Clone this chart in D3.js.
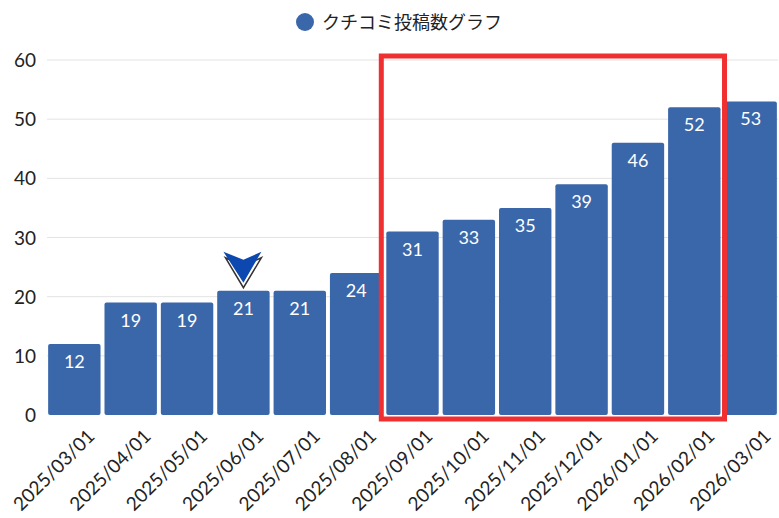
<!DOCTYPE html>
<html><head><meta charset="utf-8">
<script src="https://cdn.jsdelivr.net/npm/d3@7"></script>
<style>
body{margin:0;background:#fff;font-family:Lato,"Noto Sans CJK JP",sans-serif;}
</style></head><body>
<svg id="chart" width="779" height="518"></svg>
<script>
var categories = ["2025/03/01","2025/04/01","2025/05/01","2025/06/01","2025/07/01","2025/08/01","2025/09/01","2025/10/01","2025/11/01","2025/12/01","2026/01/01","2026/02/01","2026/03/01"];
var values = [12,19,19,21,21,24,31,33,35,39,46,52,53];
var yTicks = [0,10,20,30,40,50,60];
var seriesName = "クチコミ投稿数グラフ";
var markerIndex = 3;
var highlightFrom = 6, highlightTo = 11;

var svg = d3.select("#chart");
var x = d3.scaleBand().domain(categories).range([47, 778]).paddingInner(0.07).paddingOuter(0.02);
var y = d3.scaleLinear().domain([0, 60]).range([415, 60]);
var color = "#3a67aa";

svg.append("g").selectAll("line").data(yTicks.slice(1)).enter().append("line")
    .attr("x1", 47).attr("x2", 778)
    .attr("y1", d => y(d)).attr("y2", d => y(d))
    .attr("stroke", "#e3e3e3").attr("stroke-width", 1);

svg.append("g").selectAll("text").data(yTicks).enter().append("text")
    .attr("x", 36).attr("y", d => y(d) + 7)
    .attr("text-anchor", "end").attr("font-size", 19).attr("fill", "#222")
    .text(d => d);

svg.append("g").selectAll("rect").data(values).enter().append("rect")
    .attr("x", (d, i) => x(categories[i]))
    .attr("y", d => y(d))
    .attr("width", x.bandwidth())
    .attr("height", d => y(0) - y(d))
    .attr("rx", 2)
    .attr("fill", color);

svg.append("g").selectAll("text").data(values).enter().append("text")
    .attr("x", (d, i) => x(categories[i]) + x.bandwidth() / 2)
    .attr("y", d => y(d) + 24)
    .attr("text-anchor", "middle").attr("font-size", 18).attr("fill", "#fff")
    .text(d => d);

svg.append("g").selectAll("text").data(categories).enter().append("text")
    .attr("transform", d => "translate(" + (x(d) + x.bandwidth() / 2 + 12) + ",428) rotate(-45)")
    .attr("text-anchor", "end").attr("font-size", 19).attr("fill", "#222")
    .attr("dy", "0.7em")
    .text(d => d);

// highlight box
var bx0 = x(categories[highlightFrom]) - 5;
var bx1 = x(categories[highlightTo]) + x.bandwidth() + 4;
svg.append("rect")
    .attr("x", bx0).attr("y", y(60) - 4)
    .attr("width", bx1 - bx0).attr("height", y(0) - y(60) + 8)
    .attr("fill", "none").attr("stroke", "#f03030").attr("stroke-width", 5);

// marker arrow
var mx = x(categories[markerIndex]) + x.bandwidth() / 2;
var my = y(values[markerIndex]) - 20;
var g = svg.append("g").attr("transform", "translate(" + mx + "," + my + ")");
g.append("path").attr("d", "M-18,-13 L0,-5 L18,-13 L0,17 Z")
    .attr("fill", "#fff").attr("stroke", "#333").attr("stroke-width", 1.5);
g.append("path").attr("d", "M-20,-19 L0,-11 L18,-19 L0,12 Z").attr("fill", "#0d47b0");

// legend
svg.append("circle").attr("cx", 305).attr("cy", 22).attr("r", 9).attr("fill", color);
svg.append("text").attr("x", 322).attr("y", 29).attr("font-size", 18).attr("fill", "#222").text(seriesName);
</script>
</body></html>
